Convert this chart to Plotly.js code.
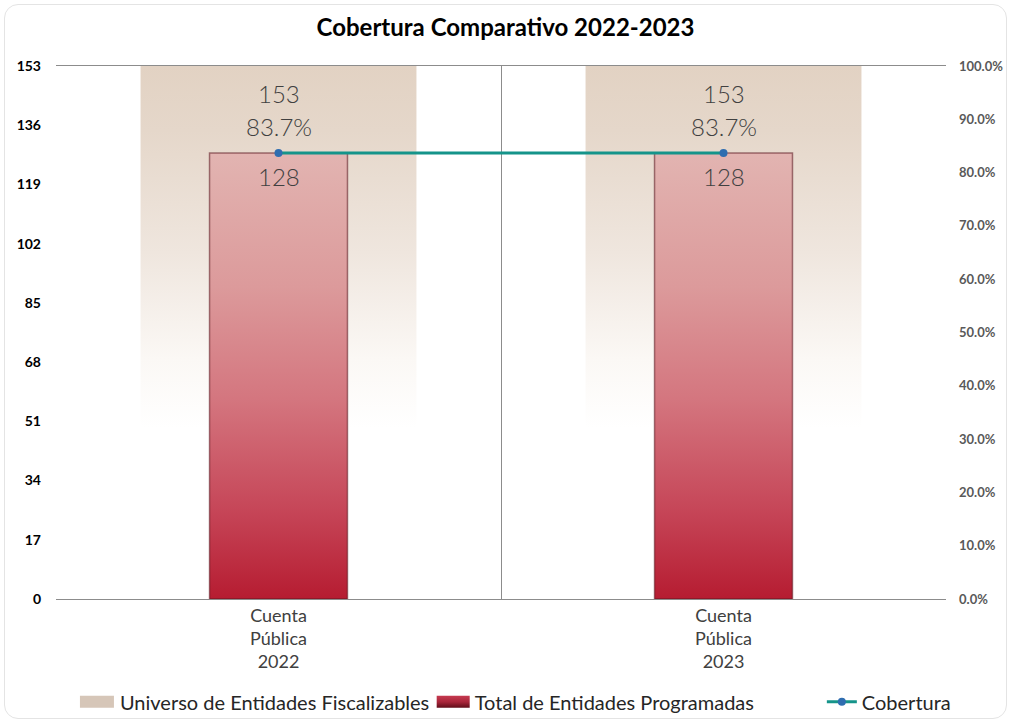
<!DOCTYPE html>
<html>
<head>
<meta charset="utf-8">
<script src="https://cdn.plot.ly/plotly-3.0.1.min.js"></script>
<style>
html,body{margin:0;padding:0;background:#fff;}
#chart{width:1011px;height:721px;}
#frame{position:absolute;left:4px;top:4px;width:1001px;height:713px;border:1px solid #e4e4e4;border-radius:14px;pointer-events:none;}
</style>
</head>
<body>
<div id="chart"></div>
<div id="frame"></div>
<script>
const categories = ["Cuenta<br>Pública<br>2022", "Cuenta<br>Pública<br>2023"];
const universo = [153, 153];
const programadas = [128, 128];
const cobertura = [0.837, 0.837];
const leftTicks = [0, 17, 34, 51, 68, 85, 102, 119, 136, 153];
const rightTicks = [0, 0.1, 0.2, 0.3, 0.4, 0.5, 0.6, 0.7, 0.8, 0.9, 1.0];

const labelFont = {family: "Lato, 'Open Sans', sans-serif", size: 24, color: "#404040", weight: 300};
const legFont = {family: "Lato, sans-serif", size: 20, color: "#262626"};

const traces = [
  {
    type: "bar", name: "Universo de Entidades Fiscalizables", legend: "legend",
    x: categories, y: universo, width: 0.62,
    marker: {color: "#d6c6b8", line: {width: 0}},
    hoverinfo: "skip"
  },
  {
    type: "bar", name: "Total de Entidades Programadas", legend: "legend2",
    x: categories, y: programadas, width: 0.31,
    marker: {color: "#a9263b", line: {width: 0}},
    hoverinfo: "skip"
  },
  {
    type: "scatter", mode: "lines+markers", name: "Cobertura", legend: "legend3",
    x: categories, y: cobertura, yaxis: "y2",
    line: {color: "#15948a", width: 3},
    marker: {color: "#2f6db0", size: 8},
    hoverinfo: "skip"
  }
];

const annotations = [];
categories.forEach((c, i) => {
  annotations.push({x: c, y: universo[i], xref: "x", yref: "y", text: String(universo[i]),
    showarrow: false, yshift: -27, font: labelFont});
  annotations.push({x: c, y: programadas[i], xref: "x", yref: "y", text: String(programadas[i]),
    showarrow: false, yshift: -23, font: labelFont});
  annotations.push({x: c, y: cobertura[i], xref: "x", yref: "y2", text: (cobertura[i]*100).toFixed(1) + "%",
    showarrow: false, yshift: 26, font: labelFont});
});

const legBase = {orientation: "h", xanchor: "left", y: -0.193, yanchor: "middle", font: legFont,
  bgcolor: "rgba(0,0,0,0)", itemwidth: 30};

const layout = {
  width: 1011, height: 721,
  paper_bgcolor: "rgba(0,0,0,0)", plot_bgcolor: "#ffffff",
  margin: {l: 56, r: 65, t: 66, b: 122, autoexpand: false},
  barmode: "overlay",
  title: {text: "<b>Cobertura Comparativo 2022-2023</b>", x: 0.5, xanchor: "center", y: 0.962, yanchor: "middle",
    font: {family: "Lato, sans-serif", size: 24, color: "#000000"}},
  xaxis: {
    type: "category", tickson: "boundaries", showgrid: true, gridcolor: "#8c8c8c", gridwidth: 1,
    showline: true, linecolor: "#8c8c8c", linewidth: 1, mirror: true,
    ticks: "", tickfont: {family: "Lato, sans-serif", size: 18, color: "#404040"},
    fixedrange: true
  },
  yaxis: {
    range: [0, 153], tickvals: leftTicks, ticktext: leftTicks.map(String),
    showgrid: false, zeroline: false, showline: false, ticks: "",
    tickfont: {family: "Lato, sans-serif", size: 14, color: "#000000", weight: "bold"},
    ticklabelstandoff: 14
  },
  yaxis2: {
    overlaying: "y", side: "right", range: [0, 1], tickvals: rightTicks, tickformat: ".1%",
    showgrid: false, zeroline: false, showline: false, ticks: "",
    tickfont: {family: "Lato, sans-serif", size: 13, color: "#595959", weight: "bold"},
    ticklabelstandoff: 12
  },
  showlegend: true,
  legend: Object.assign({}, legBase, {x: 0.0269}),
  legend2: Object.assign({}, legBase, {x: 0.4255}),
  legend3: Object.assign({}, legBase, {x: 0.8605}),
  annotations: annotations
};

const gd = document.getElementById("chart");
const NS = "http://www.w3.org/2000/svg";

function decorate() {
  const svg = gd.querySelector("svg.main-svg");
  let defs = svg.querySelector("defs");
  if (!defs) { defs = document.createElementNS(NS, "defs"); svg.insertBefore(defs, svg.firstChild); }
  function grad(id, stops) {
    if (document.getElementById(id)) return;
    const g = document.createElementNS(NS, "linearGradient");
    g.setAttribute("id", id); g.setAttribute("x1", "0"); g.setAttribute("y1", "0");
    g.setAttribute("x2", "0"); g.setAttribute("y2", "1");
    stops.forEach(s => {
      const st = document.createElementNS(NS, "stop");
      st.setAttribute("offset", s[0]); st.setAttribute("stop-color", s[1]);
      g.appendChild(st);
    });
    defs.appendChild(g);
  }
  grad("gradUniv", [[0, "#e2d2c3"], [0.12, "#e5d7ca"], [0.35, "#efe6de"], [0.55, "#fbf8f5"], [0.68, "#ffffff"], [1, "#ffffff"]]);
  grad("gradProg", [[0, "#e2b4b1"], [0.3, "#dc9a9b"], [0.55, "#d4767f"], [0.8, "#c64658"], [1, "#b61c31"]]);
  grad("gradLegProg", [[0, "#c63a50"], [0.5, "#a9263b"], [1, "#5e0c18"]]);
  const barTraces = gd.querySelectorAll(".barlayer .trace");
  const ids = ["gradUniv", "gradProg"];
  barTraces.forEach((t, i) => {
    t.querySelectorAll(".point path").forEach(p => {
      p.style.fill = "url(#" + ids[i] + ")";
      if (i === 1) { p.style.stroke = "rgba(90,20,30,0.55)"; p.style.strokeWidth = "1.5px"; }
      else { p.style.stroke = "none"; }
    });
  });
  // widen the bar legend swatches to rectangles like the original
  gd.querySelectorAll("g.traces").forEach(item => {
    const txt = item.textContent;
    item.querySelectorAll(".legendpoints path").forEach(p => {
      if (txt.indexOf("Universo") >= 0) {
        p.setAttribute("d", "M-29,-6H14V6H-29Z");
      } else if (txt.indexOf("Programadas") >= 0) {
        p.setAttribute("d", "M-18,-6H15V6H-18Z");
        p.style.fill = "url(#gradLegProg)";
      }
    });
  });
}

Plotly.newPlot(gd, traces, layout, {displayModeBar: false, staticPlot: true}).then(() => {
  decorate();
  setTimeout(decorate, 200);
});
gd.on && gd.on("plotly_afterplot", decorate);
</script>
</body>
</html>
